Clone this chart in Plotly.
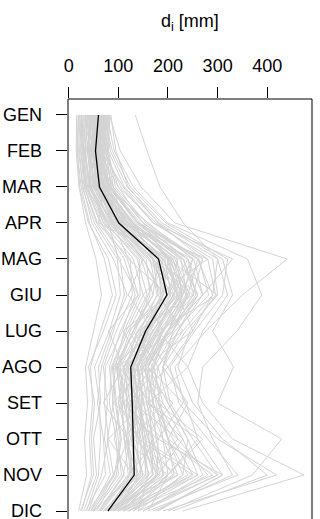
import plotly.graph_objects as go

# Months (Italian abbreviations) plotted top to bottom
months = ["GEN", "FEB", "MAR", "APR", "MAG", "GIU", "LUG", "AGO", "SET", "OTT", "NOV", "DIC"]
month_pos = list(range(1, 13))
x_ticks = [0, 100, 200, 300, 400]

# Mean monthly depth d_i [mm] over all stations
mean_depth = [60, 54, 62, 101, 181, 198, 155, 125, 128, 130, 132, 79]

# Monthly depth d_i [mm] for the individual stations (GEN..DIC)
r01 = [16, 15, 21, 34, 55, 66, 50, 34, 38, 32, 36, 20]
r02 = [19, 17, 25, 42, 72, 88, 64, 44, 48, 42, 46, 26]
r03 = [23, 20, 29, 47, 90, 118, 86, 60, 64, 50, 56, 30]
r04 = [26, 22, 27, 52, 98, 104, 82, 52, 62, 64, 60, 36]
r05 = [29, 25, 34, 64, 112, 134, 108, 74, 72, 80, 66, 40]
r06 = [31, 28, 32, 58, 124, 128, 96, 70, 78, 72, 84, 44]
r07 = [34, 30, 38, 70, 130, 150, 116, 86, 82, 96, 100, 48]
r08 = [37, 34, 42, 74, 142, 144, 112, 94, 88, 100, 106, 52]
r09 = [40, 33, 40, 82, 146, 170, 124, 98, 104, 92, 112, 62]
r10 = [43, 38, 46, 78, 156, 164, 134, 90, 96, 106, 96, 56]
r11 = [45, 42, 50, 88, 164, 178, 144, 104, 112, 124, 110, 60]
r12 = [47, 40, 54, 92, 150, 186, 150, 112, 100, 118, 124, 66]
r13 = [49, 45, 52, 96, 172, 192, 138, 116, 108, 112, 132, 72]
r14 = [51, 48, 56, 90, 168, 198, 146, 118, 116, 120, 128, 74]
r15 = [53, 46, 60, 98, 180, 186, 158, 110, 124, 116, 138, 70]
r16 = [55, 50, 58, 104, 176, 204, 152, 126, 118, 132, 122, 80]
r17 = [57, 53, 62, 100, 188, 196, 160, 120, 128, 126, 140, 76]
r18 = [58, 52, 64, 108, 184, 212, 154, 128, 134, 140, 136, 84]
r19 = [60, 56, 61, 112, 194, 206, 164, 124, 130, 136, 146, 82]
r20 = [62, 55, 66, 106, 198, 218, 158, 132, 138, 128, 150, 86]
r21 = [63, 58, 68, 116, 190, 224, 170, 136, 126, 146, 144, 90]
r22 = [65, 60, 70, 120, 204, 214, 176, 130, 142, 150, 156, 88]
r23 = [66, 62, 67, 114, 210, 230, 168, 140, 148, 142, 162, 94]
r24 = [68, 61, 72, 124, 202, 236, 182, 144, 136, 156, 154, 92]
r25 = [70, 64, 76, 126, 218, 228, 178, 138, 152, 162, 170, 98]
r26 = [72, 66, 74, 132, 214, 244, 186, 150, 146, 154, 176, 96]
r27 = [74, 68, 78, 128, 226, 238, 192, 146, 158, 170, 168, 104]
r28 = [76, 70, 82, 136, 232, 252, 188, 154, 164, 166, 184, 100]
r29 = [78, 72, 80, 140, 224, 260, 198, 160, 156, 180, 178, 108]
r30 = [80, 75, 86, 144, 240, 256, 204, 156, 170, 176, 192, 112]
r31 = [81, 78, 90, 150, 252, 270, 200, 166, 176, 190, 200, 116]
r32 = [83, 80, 94, 156, 262, 282, 214, 172, 184, 200, 212, 122]
r33 = [60, 72, 105, 170, 290, 300, 236, 190, 204, 250, 300, 140]
r34 = [70, 88, 124, 196, 320, 310, 254, 204, 222, 280, 341, 160]
r35 = [134, 158, 184, 231, 300, 290, 250, 200, 236, 260, 310, 176]
r36 = [82, 104, 146, 214, 440, 350, 276, 214, 232, 300, 419, 190]
r37 = [76, 92, 130, 200, 360, 389, 339, 270, 260, 290, 330, 170]
r38 = [72, 84, 118, 188, 310, 330, 290, 332, 300, 429, 370, 200]
r39 = [68, 80, 112, 182, 300, 320, 270, 240, 270, 330, 474, 230]
r40 = [64, 76, 100, 176, 280, 296, 244, 220, 250, 310, 400, 210]
r41 = [55, 66, 90, 150, 260, 240, 200, 170, 190, 230, 260, 130]
r42 = [50, 60, 84, 140, 240, 270, 220, 180, 170, 210, 250, 120]
r43 = [48, 58, 80, 160, 250, 230, 190, 160, 200, 240, 230, 140]
r44 = [85, 95, 120, 180, 270, 250, 210, 190, 180, 220, 280, 150]
r45 = [45, 52, 70, 130, 230, 260, 210, 150, 180, 200, 240, 110]
r46 = [40, 48, 66, 120, 210, 240, 200, 170, 160, 190, 220, 100]
r47 = [20, 18, 22, 40, 80, 96, 70, 40, 52, 46, 50, 24]
r48 = [27, 24, 31, 56, 104, 112, 90, 66, 58, 70, 74, 34]
r49 = [35, 29, 36, 66, 118, 140, 104, 82, 90, 78, 90, 46]
r50 = [38, 32, 44, 76, 138, 158, 120, 88, 94, 104, 92, 50]
r51 = [52, 44, 50, 84, 160, 210, 180, 140, 150, 170, 190, 90]
r52 = [58, 50, 62, 110, 220, 200, 150, 110, 140, 160, 210, 100]
r53 = [62, 58, 72, 130, 200, 190, 140, 100, 120, 140, 180, 110]
r54 = [70, 62, 68, 100, 170, 220, 190, 160, 170, 200, 230, 130]
r55 = [45, 40, 48, 100, 190, 230, 200, 150, 130, 150, 170, 80]
r56 = [66, 56, 64, 110, 180, 170, 130, 100, 110, 130, 150, 70]
r57 = [75, 66, 80, 140, 260, 290, 230, 180, 200, 240, 270, 150]
r58 = [42, 38, 45, 86, 150, 190, 160, 130, 140, 160, 180, 85]
r59 = [56, 48, 56, 92, 170, 180, 130, 96, 106, 112, 120, 64]
r60 = [61, 54, 63, 118, 206, 226, 174, 138, 144, 150, 160, 90]
r61 = [30, 45, 40, 90, 120, 200, 110, 150, 90, 180, 120, 60]
r62 = [50, 35, 70, 60, 210, 150, 190, 100, 170, 110, 200, 90]
r63 = [40, 55, 50, 130, 170, 250, 140, 200, 130, 220, 160, 140]
r64 = [65, 48, 90, 110, 280, 180, 230, 130, 210, 150, 260, 110]
r65 = [25, 30, 45, 70, 150, 120, 170, 90, 150, 80, 130, 50]
r66 = [72, 60, 100, 150, 200, 300, 180, 240, 160, 260, 200, 160]
r67 = [48, 70, 60, 120, 240, 200, 120, 170, 110, 190, 290, 120]
r68 = [58, 42, 75, 95, 160, 240, 210, 110, 190, 130, 220, 70]
r69 = [36, 50, 55, 100, 190, 160, 130, 180, 120, 170, 140, 100]
r70 = [80, 65, 110, 170, 330, 270, 200, 160, 230, 180, 310, 180]
r71 = [22, 28, 35, 80, 100, 140, 80, 110, 70, 120, 90, 40]
r72 = [62, 75, 85, 140, 270, 220, 250, 150, 180, 270, 200, 130]
r73 = [44, 38, 65, 85, 200, 220, 160, 140, 100, 140, 250, 100]
r74 = [54, 62, 58, 125, 180, 260, 220, 190, 240, 200, 300, 150]
r75 = [68, 52, 80, 105, 250, 210, 170, 120, 160, 230, 180, 90]

stations = [r01, r02, r03, r04, r05, r06, r07, r08, r09, r10,
            r11, r12, r13, r14, r15, r16, r17, r18, r19, r20,
            r21, r22, r23, r24, r25, r26, r27, r28, r29, r30,
            r31, r32, r33, r34, r35, r36, r37, r38, r39, r40,
            r41, r42, r43, r44, r45, r46, r47, r48, r49, r50,
            r51, r52, r53, r54, r55, r56, r57, r58, r59, r60,
            r61, r62, r63, r64, r65, r66, r67, r68, r69, r70,
            r71, r72, r73, r74, r75]

fig = go.Figure()

for s in stations:
    fig.add_trace(go.Scatter(
        x=s, y=month_pos, mode="lines",
        line=dict(color="#d3d3d3", width=1),
        hoverinfo="skip", showlegend=False,
    ))

fig.add_trace(go.Scatter(
    x=mean_depth, y=month_pos, mode="lines",
    line=dict(color="black", width=1.3),
    showlegend=False,
))

font = dict(family="Liberation Sans, Arial, Helvetica, sans-serif", size=18, color="black")

# Month labels as annotations so the last one stays visible at the bottom edge
month_labels = [
    dict(text=m, xref="paper", yref="y", x=-24 / 244, y=p,
         xanchor="right", yanchor="middle", showarrow=False, font=font)
    for m, p in zip(months, month_pos)
]

fig.update_layout(
    width=320, height=519,
    margin=dict(l=68, r=8, t=99, b=0, pad=0),
    paper_bgcolor="white", plot_bgcolor="white",
    font=font, showlegend=False,
    xaxis=dict(
        side="top", range=[-1.4, 490.1],
        tickvals=x_ticks, ticktext=[str(v) for v in x_ticks],
        ticks="outside", ticklen=11, tickwidth=1, tickcolor="black",
        ticklabelstandoff=8,
        showgrid=False, zeroline=False, showline=False, fixedrange=True,
    ),
    yaxis=dict(
        range=[12.222, 0.556],
        tickvals=month_pos, showticklabels=False,
        ticks="outside", ticklen=11, tickwidth=1, tickcolor="black",
        showgrid=False, zeroline=False, showline=False, fixedrange=True,
    ),
    shapes=[
        dict(type="line", xref="paper", yref="paper", x0=0, x1=0, y0=-0.1, y1=1,
             line=dict(color="black", width=1)),
        dict(type="line", xref="paper", yref="paper", x0=0, x1=1, y0=1, y1=1,
             line=dict(color="black", width=1)),
        dict(type="line", xref="paper", yref="paper", x0=1, x1=1, y0=-0.1, y1=1,
             line=dict(color="black", width=1)),
    ],
    annotations=month_labels + [
        dict(text="d<sub>i</sub> [mm]", xref="paper", yref="paper",
             x=0.5, y=1 + (99 - 23) / 420, xanchor="center", yanchor="middle",
             showarrow=False, font=font),
    ],
)

fig.write_html("out.html")
